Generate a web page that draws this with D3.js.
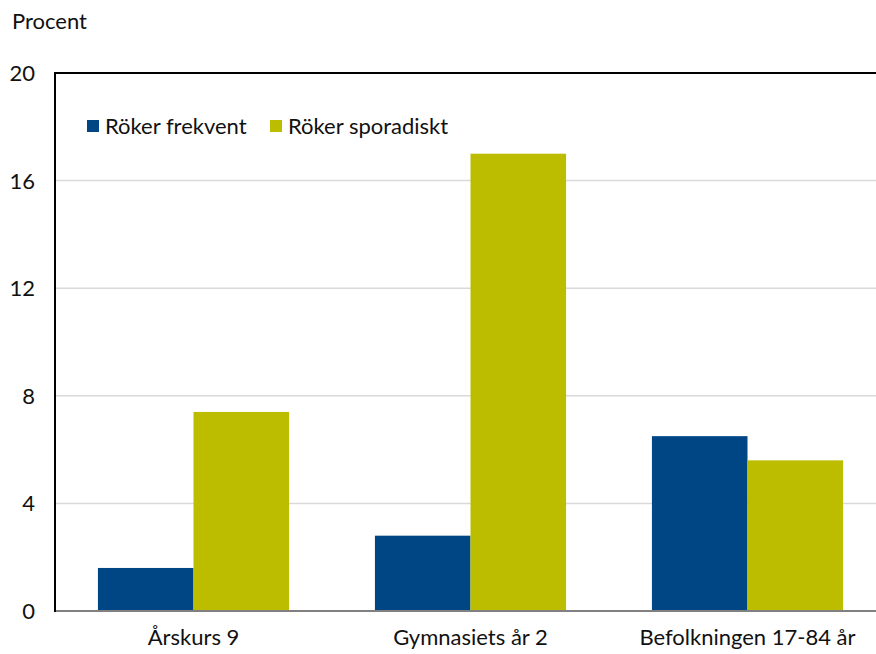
<!DOCTYPE html>
<html>
<head>
<meta charset="utf-8">
<script src="https://cdn.jsdelivr.net/npm/d3@7"></script>
<style>
  body { margin: 0; background: #fff; }
  text { font-family: "Lato", "DejaVu Sans", sans-serif; fill: #111; }
</style>
</head>
<body>
<script>
// ---- data ----
var categories = ['Årskurs 9', 'Gymnasiets år 2', 'Befolkningen 17-84 år'];
var seriesNames = ['Röker frekvent', 'Röker sporadiskt'];
var frekvent = [1.6, 2.8, 6.5];
var sporadiskt = [7.4, 17.0, 5.6];
var yTicks = [0, 4, 8, 12, 16, 20];
var colors = ['#004685', '#bdbd00'];

var W = 876, H = 654;
var m = {left: 55, top: 73, bottom: 43};
var plotRight = 886; // frame runs past the picture edge
var fs = 22;

var svg = d3.select('body').append('svg').attr('width', W).attr('height', H);

var x = d3.scaleBand().domain(categories).range([m.left, plotRight]).paddingInner(0.31).paddingOuter(0.155);
var xs = d3.scaleBand().domain(seriesNames).range([0, x.bandwidth()]);
var y = d3.scaleLinear().domain([0, 20]).range([H - m.bottom, m.top]);

// gridlines
svg.append('g').selectAll('line').data(yTicks.filter(d => d > 0 && d < 20)).join('line')
  .attr('x1', m.left).attr('x2', W).attr('y1', d => y(d)).attr('y2', d => y(d))
  .attr('stroke', '#d9d9d9').attr('stroke-width', 1.5);

// bars
var rows = categories.map((c, i) => ({cat: c, vals: [frekvent[i], sporadiskt[i]]}));
var grp = svg.append('g').selectAll('g').data(rows).join('g')
  .attr('transform', d => 'translate(' + x(d.cat) + ',0)');
grp.selectAll('rect').data(d => d.vals.map((v, j) => ({v: v, s: seriesNames[j], j: j}))).join('rect')
  .attr('x', d => xs(d.s)).attr('width', xs.bandwidth())
  .attr('y', d => y(d.v)).attr('height', d => y(0) - y(d.v))
  .attr('fill', d => colors[d.j]);

// frame: top + left black, bottom gray
svg.append('line').attr('x1', m.left).attr('x2', W).attr('y1', y(20)).attr('y2', y(20))
  .attr('stroke', '#000').attr('stroke-width', 2);
svg.append('line').attr('x1', m.left).attr('x2', W).attr('y1', y(0)).attr('y2', y(0))
  .attr('stroke', '#808080').attr('stroke-width', 2);
svg.append('line').attr('x1', m.left).attr('x2', m.left).attr('y1', y(20) - 1).attr('y2', y(0) + 1)
  .attr('stroke', '#000').attr('stroke-width', 2);

// y tick labels
svg.append('g').selectAll('text').data(yTicks).join('text')
  .attr('x', 35).attr('y', d => y(d)).attr('dy', '0.36em')
  .attr('text-anchor', 'end').attr('font-size', fs).text(d => d);

// x labels
svg.append('g').selectAll('text').data(categories).join('text')
  .attr('x', d => x(d) + x.bandwidth() / 2).attr('y', 645)
  .attr('text-anchor', 'middle').attr('font-size', fs).text(d => d);

// unit label
svg.append('text').attr('x', 12).attr('y', 29).attr('font-size', fs).text('Procent');

// legend
var legX = [87, 270];
var leg = svg.append('g').selectAll('g').data(seriesNames).join('g')
  .attr('transform', (d, i) => 'translate(' + legX[i] + ',120)');
leg.append('rect').attr('width', 12).attr('height', 12).attr('fill', (d, i) => colors[i]);
leg.append('text').attr('x', 18).attr('y', 6).attr('dy', '0.36em').attr('font-size', fs).text(d => d);
</script>
</body>
</html>
